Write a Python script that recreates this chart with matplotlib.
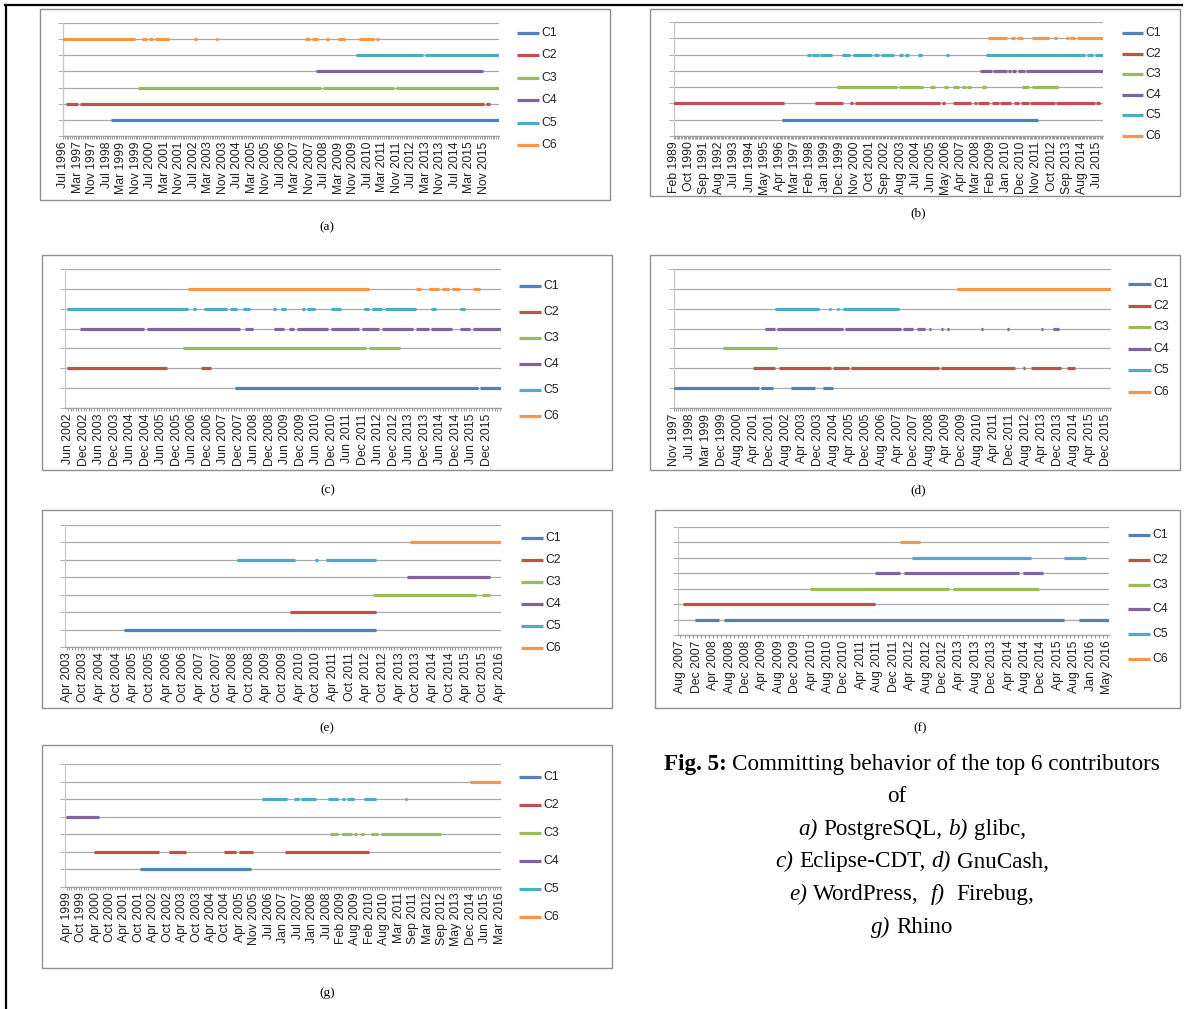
import numpy as np
import matplotlib
matplotlib.use("Agg")
import matplotlib.pyplot as plt
from matplotlib.lines import Line2D
from matplotlib.patches import Rectangle

W, H = 1186, 1009

NAMES = ["C1", "C2", "C3", "C4", "C5", "C6"]
COLORS = ["#4F81BD", "#C0504D", "#9BBB59", "#8064A2", "#4BACC6", "#F79646"]

# ---- (a) PostgreSQL
A_TICKS = ("Jul 1996,Mar 1997,Nov 1997,Jul 1998,Mar 1999,Nov 1999,Jul 2000,Mar 2001,Nov 2001,"
           "Jul 2002,Mar 2003,Nov 2003,Jul 2004,Mar 2005,Nov 2005,Jul 2006,Mar 2007,Nov 2007,"
           "Jul 2008,Mar 2009,Nov 2009,Jul 2010,Mar 2011,Nov 2011,Jul 2012,Mar 2013,Nov 2013,"
           "Jul 2014,Mar 2015,Nov 2015").split(",")
A_END = "2016-07"
A_SEGMENTS = [
    [("1998-10", "2016-07")],
    [("1996-09", "1997-03"), ("1997-05", "2015-11"), ("2016-01", "2016-02")],
    [("2000-01", "2008-05"), ("2008-07", "2011-09"), ("2011-11", "2016-07")],
    [("2008-03", "2015-10")],
    [("2010-01", "2013-01"), ("2013-03", "2016-07")],
    [("1996-07", "1999-10"), ("2000-03", "2000-05"), ("2000-07", "2000-08"), ("2000-10", "2001-05"),
     ("2002-08", "2002-08"), ("2003-08", "2003-08"), ("2007-09", "2007-11"), ("2008-01", "2008-03"),
     ("2008-09", "2008-09"), ("2009-03", "2009-06"), ("2010-03", "2010-10"), ("2010-12", "2011-01")],
]

# ---- (b) glibc
B_TICKS = ("Feb 1989,Oct 1990,Sep 1991,Aug 1992,Jul 1993,Jun 1994,May 1995,Apr 1996,Mar 1997,"
           "Feb 1998,Jan 1999,Dec 1999,Nov 2000,Oct 2001,Sep 2002,Aug 2003,Jul 2004,Jun 2005,"
           "May 2006,Apr 2007,Mar 2008,Feb 2009,Jan 2010,Dec 2010,Nov 2011,Oct 2012,Sep 2013,"
           "Aug 2014,Jul 2015").split(",")
B_END = "2015-11"
B_SEGMENTS = [
    [("1996-06", "2011-12")],
    [("1989-02", "1996-07"), ("1998-06", "2000-02"), ("2000-08", "2000-09"), ("2000-11", "2005-12"),
     ("2006-03", "2006-04"), ("2006-11", "2007-11"), ("2008-02", "2008-03"), ("2008-05", "2008-12"),
     ("2009-03", "2009-07"), ("2009-09", "2010-04"), ("2010-07", "2010-10"), ("2010-12", "2011-05"),
     ("2011-07", "2012-12"), ("2013-02", "2015-05"), ("2015-07", "2015-09")],
    [("1999-10", "2003-05"), ("2003-07", "2004-12"), ("2005-06", "2005-09"), ("2006-04", "2006-06"),
     ("2006-11", "2007-02"), ("2007-05", "2007-07"), ("2007-09", "2007-11"), ("2008-08", "2008-10"),
     ("2011-01", "2011-05"), ("2011-08", "2013-02")],
    [("2008-06", "2009-02"), ("2009-04", "2010-01"), ("2010-03", "2010-04"), ("2010-06", "2010-08"),
     ("2010-10", "2011-02"), ("2011-04", "2015-11")],
    [("1997-12", "1998-02"), ("1998-04", "1998-08"), ("1998-10", "1999-06"), ("2000-02", "2000-07"),
     ("2000-10", "2001-11"), ("2002-01", "2002-04"), ("2002-06", "2003-03"), ("2003-07", "2003-09"),
     ("2003-12", "2004-02"), ("2004-09", "2004-11"), ("2006-06", "2006-07"), ("2008-11", "2014-10"),
     ("2014-12", "2015-04"), ("2015-06", "2015-11")],
    [("2008-12", "2010-01"), ("2010-05", "2010-07"), ("2010-09", "2011-01"), ("2011-08", "2012-08"),
     ("2013-01", "2013-01"), ("2013-09", "2013-10"), ("2013-12", "2014-03"), ("2014-05", "2015-11")],
]

# ---- (c) Eclipse-CDT
C_TICKS = ("Jun 2002,Dec 2002,Jun 2003,Dec 2003,Jun 2004,Dec 2004,Jun 2005,Dec 2005,Jun 2006,"
           "Dec 2006,Jun 2007,Dec 2007,Jun 2008,Dec 2008,Jun 2009,Dec 2009,Jun 2010,Dec 2010,"
           "Jun 2011,Dec 2011,Jun 2012,Dec 2012,Jun 2013,Dec 2013,Jun 2014,Dec 2014,Jun 2015,"
           "Dec 2015").split(",")
C_END = "2016-05"
C_SEGMENTS = [
    [("2007-11", "2015-08"), ("2015-10", "2016-05")],
    [("2002-06", "2005-08"), ("2006-10", "2007-01")],
    [("2006-03", "2012-01"), ("2012-03", "2013-02")],
    [("2002-11", "2004-11"), ("2005-01", "2007-12"), ("2008-03", "2008-05"), ("2009-02", "2009-05"),
     ("2009-08", "2009-09"), ("2009-11", "2010-10"), ("2010-12", "2011-10"), ("2011-12", "2012-06"),
     ("2012-08", "2013-07"), ("2013-09", "2014-01"), ("2014-03", "2014-10"), ("2015-02", "2015-05"),
     ("2015-07", "2016-05")],
    [("2002-06", "2006-04"), ("2006-07", "2006-07"), ("2006-11", "2007-07"), ("2007-09", "2007-11"),
     ("2008-02", "2008-04"), ("2009-02", "2009-02"), ("2009-05", "2009-06"), ("2010-01", "2010-01"),
     ("2010-03", "2010-05"), ("2010-12", "2011-03"), ("2012-01", "2012-02"), ("2012-04", "2012-07"),
     ("2012-09", "2013-08"), ("2014-03", "2014-04"), ("2015-02", "2015-03")],
    [("2006-05", "2012-02"), ("2013-09", "2013-10"), ("2014-02", "2014-05"), ("2014-07", "2014-09"),
     ("2014-11", "2015-01"), ("2015-07", "2015-09")],
]

# ---- (d) GnuCash
D_TICKS = ("Nov 1997,Jul 1998,Mar 1999,Dec 1999,Aug 2000,Apr 2001,Dec 2001,Aug 2002,Apr 2003,"
           "Dec 2003,Aug 2004,Apr 2005,Dec 2005,Aug 2006,Apr 2007,Dec 2007,Aug 2008,Apr 2009,"
           "Dec 2009,Aug 2010,Apr 2011,Dec 2011,Aug 2012,Apr 2013,Dec 2013,Aug 2014,Apr 2015,"
           "Dec 2015").split(",")
D_END = "2016-02"
D_SEGMENTS = [
    [("1997-11", "2001-06"), ("2001-08", "2002-01"), ("2002-11", "2003-10"), ("2004-03", "2004-07")],
    [("2001-04", "2002-02"), ("2002-05", "2004-06"), ("2004-08", "2005-03"), ("2005-05", "2008-12"),
     ("2009-02", "2012-02"), ("2012-07", "2012-07"), ("2012-11", "2014-01"), ("2014-05", "2014-08")],
    [("2000-01", "2002-03")],
    [("2001-10", "2002-02"), ("2002-04", "2004-12"), ("2005-02", "2007-05"), ("2007-07", "2007-11"),
     ("2008-02", "2008-05"), ("2008-08", "2008-08"), ("2009-02", "2009-02"), ("2009-05", "2009-05"),
     ("2010-10", "2010-10"), ("2011-11", "2011-11"), ("2013-04", "2013-04"), ("2013-10", "2013-12")],
    [("2002-03", "2003-12"), ("2004-06", "2004-06"), ("2004-10", "2004-10"), ("2005-01", "2007-04")],
    [("2009-10", "2016-02")],
]

# ---- (e) WordPress
E_TICKS = ("Apr 2003,Oct 2003,Apr 2004,Oct 2004,Apr 2005,Oct 2005,Apr 2006,Oct 2006,Apr 2007,"
           "Oct 2007,Apr 2008,Oct 2008,Apr 2009,Oct 2009,Apr 2010,Oct 2010,Apr 2011,Oct 2011,"
           "Apr 2012,Oct 2012,Apr 2013,Oct 2013,Apr 2014,Oct 2014,Apr 2015,Oct 2015,"
           "Apr 2016").split(",")
E_END = "2016-04"
E_SEGMENTS = [
    [("2005-01", "2012-07")],
    [("2010-01", "2012-07")],
    [("2012-07", "2015-07"), ("2015-10", "2015-12")],
    [("2013-07", "2015-12")],
    [("2008-06", "2010-02"), ("2010-10", "2010-10"), ("2011-02", "2012-07")],
    [("2013-08", "2016-04")],
]

# ---- (f) Firebug
F_TICKS = ("Aug 2007,Dec 2007,Apr 2008,Aug 2008,Dec 2008,Apr 2009,Aug 2009,Dec 2009,Apr 2010,"
           "Aug 2010,Dec 2010,Apr 2011,Aug 2011,Dec 2011,Apr 2012,Aug 2012,Dec 2012,Apr 2013,"
           "Aug 2013,Dec 2013,Apr 2014,Aug 2014,Dec 2014,Apr 2015,Aug 2015,Jan 2016,"
           "May 2016").split(",")
F_END = "2016-05"
F_SEGMENTS = [
    [("2007-12", "2008-05"), ("2008-07", "2015-05"), ("2015-10", "2016-05")],
    [("2007-09", "2011-07")],
    [("2010-04", "2013-01"), ("2013-03", "2014-11")],
    [("2011-08", "2012-01"), ("2012-03", "2014-06"), ("2014-08", "2014-12")],
    [("2012-05", "2014-09"), ("2015-06", "2015-11")],
    [("2012-02", "2012-06")],
]

# ---- (g) Rhino
G_TICKS = ("Apr 1999,Oct 1999,Apr 2000,Oct 2000,Apr 2001,Oct 2001,Apr 2002,Oct 2002,Apr 2003,"
           "Oct 2003,Apr 2004,Oct 2004,Apr 2005,Nov 2005,Jul 2006,Jan 2007,Jul 2007,Jan 2008,"
           "Jul 2008,Feb 2009,Aug 2009,Feb 2010,Aug 2010,Mar 2011,Sep 2011,Mar 2012,Sep 2012,"
           "May 2013,Dec 2014,Jun 2015,Mar 2016").split(",")
G_END = "2016-03"
G_SEGMENTS = [
    [("2001-11", "2005-09")],
    [("2000-04", "2002-06"), ("2002-11", "2003-05"), ("2004-10", "2005-02"), ("2005-04", "2005-10"),
     ("2007-02", "2010-01")],
    [("2008-09", "2008-12"), ("2009-03", "2009-06"), ("2009-08", "2009-08"), ("2009-11", "2009-11"),
     ("2010-03", "2010-05"), ("2010-07", "2012-08")],
    [("1999-04", "2000-05")],
    [("2006-04", "2007-02"), ("2007-06", "2007-07"), ("2007-09", "2008-02"), ("2008-08", "2008-12"),
     ("2009-03", "2009-03"), ("2009-05", "2009-07"), ("2009-12", "2010-04"), ("2011-06", "2011-06")],
    [("2014-12", "2016-03")],
]

MONTHS = {m: i for i, m in enumerate(
    ["Jan", "Feb", "Mar", "Apr", "May", "Jun", "Jul", "Aug", "Sep", "Oct", "Nov", "Dec"])}

GRID = "#a9a9a9"
TICK_FONT = ["Liberation Sans Narrow", "Liberation Sans", "DejaVu Sans"]


def label_num(lbl):
    mon, yr = lbl.split()
    return int(yr) * 12 + MONTHS[mon]


def date_num(s):
    y, m = s.split("-")
    return int(y) * 12 + int(m) - 1


def fig_box(x0, y0, x1, y1):
    # pixel box (top-left origin) -> figure fraction
    return [x0 / W, 1 - y1 / H, (x1 - x0) / W, (y1 - y0) / H]


def draw_panel(fig, ticks, step, end, segments, frame, plot, legend, tag, lpad):
    # grey frame around each Excel chart
    fx0, fy0, fx1, fy1 = frame
    fig.add_artist(Rectangle((fx0 / W, 1 - fy1 / H), (fx1 - fx0) / W, (fy1 - fy0) / H,
                             transform=fig.transFigure, fill=False, ec="#8f8f8f", lw=1.0))

    ax = fig.add_axes(fig_box(*plot))

    # category axis: tick labels every `step` months, gaps where months are missing
    nums = np.array([label_num(t) for t in ticks], dtype=float)
    locs = np.arange(len(ticks)) * step

    def pos(s):
        n = date_num(s)
        if n < nums[0]:
            return locs[0] - (nums[0] - n)
        if n > nums[-1]:
            return locs[-1] + (n - nums[-1])
        return float(np.interp(n, nums, locs))

    xmax = pos(end)
    ax.set_xlim(-lpad, xmax + 0.5)
    ax.set_ylim(0, 7)

    # short marks are kept at least ~2.8 px wide so single months stay visible
    px_per_cat = (plot[2] - plot[0]) / (xmax + 0.5 + lpad)
    min_len = 2.8 / px_per_cat

    for lvl, (segs, color) in enumerate(zip(segments, COLORS), start=1):
        for a, b in segs:
            x0, x1 = pos(a) - 0.45, pos(b) + 0.45
            if x1 - x0 < min_len:
                mid = (x0 + x1) / 2
                x0, x1 = mid - min_len / 2, mid + min_len / 2
            ax.plot([x0, x1], [lvl, lvl], color=color, lw=2.3,
                    solid_capstyle="butt", zorder=3)

    ax.set_yticks(range(0, 8))
    ax.set_yticklabels([])
    ax.yaxis.grid(True, color=GRID, lw=0.9)
    ax.set_axisbelow(True)

    ax.set_xticks(locs)
    ax.set_xticklabels(ticks, rotation=90, fontsize=8.8, family=TICK_FONT, color="#202020")
    ax.set_xticks(np.arange(0, int(xmax) + 1), minor=True)
    ax.tick_params(axis="x", which="both", length=2.5, width=0.6, color="#8c8c8c", pad=1.5)
    ax.tick_params(axis="y", length=3.5, width=0.6, color="#a0a0a0")

    for side in ("top", "right"):
        ax.spines[side].set_visible(False)
    ax.spines["left"].set_color("#c8c8c8")
    ax.spines["bottom"].set_color("#a0a0a0")
    ax.spines["left"].set_linewidth(0.9)
    ax.spines["bottom"].set_linewidth(0.9)

    # legend drawn as in Excel: short line + label, one row per contributor
    lx0, lx1, ly0, pitch = legend
    for i, (name, color) in enumerate(zip(NAMES, COLORS)):
        y = 1 - (ly0 + i * pitch) / H
        fig.add_artist(Line2D([lx0 / W, lx1 / W], [y, y], transform=fig.transFigure,
                              color=color, lw=2.3, solid_capstyle="butt"))
        fig.text((lx1 + 2) / W, y, name, fontsize=8.8, family=TICK_FONT,
                 color="#202020", va="center", ha="left")

    tx, ty, label = tag
    fig.text(tx / W, 1 - ty / H, label, fontsize=9.5, family="Liberation Serif",
             ha="center", va="center")


def caption(fig, lines, target_width):
    r = fig.canvas.get_renderer()

    def width(s, size, weight="normal", style="normal"):
        t = fig.text(0, 0, s, fontsize=size, family="Liberation Serif", weight=weight, style=style)
        w = t.get_window_extent(r).width
        t.remove()
        return w

    # fit the first line to the width it has in the paper
    base = 16
    space = width("x x", base) - width("xx", base)
    first = lines[0][2]
    w0 = sum(width(s, base, wt, st) for s, wt, st, _ in first) + space * sum(g for *_, g in first[1:])
    size = base * target_width / w0
    space = space * size / base

    for xc, yb, parts in lines:
        widths = [width(s, size, wt, st) for s, wt, st, _ in parts]
        total = sum(widths) + space * sum(g for *_, g in parts[1:])
        x = xc - total / 2
        for k, ((s, wt, st, gap), w) in enumerate(zip(parts, widths)):
            if k:
                x += space * gap
            fig.text(x / W, 1 - yb / H, s, fontsize=size, family="Liberation Serif",
                     weight=wt, style=st, va="baseline", ha="left")
            x += w


def main():
    fig = plt.figure(figsize=(W / 100, H / 100), dpi=100)
    fig.patch.set_facecolor("white")

    # 1) seven Excel-like timelines
    draw_panel(fig, A_TICKS, 8, A_END, A_SEGMENTS, (40, 9, 610, 200), (63, 23, 499, 136),
               (517, 539, 33, 22.4), (327, 227, "(a)"), 0.0)
    draw_panel(fig, B_TICKS, 11, B_END, B_SEGMENTS, (650, 9, 1180, 196), (674, 22, 1103, 136),
               (1122, 1143, 33, 20.6), (918, 213, "(b)"), 0.0)
    draw_panel(fig, C_TICKS, 6, C_END, C_SEGMENTS, (42, 255, 612, 470), (65, 269, 501, 408),
               (519, 541, 286, 26.0), (328, 490, "(c)"), 1.2)
    draw_panel(fig, D_TICKS, 8, D_END, D_SEGMENTS, (650, 255, 1180, 470), (674, 269, 1111, 408),
               (1128, 1151, 284, 21.6), (918, 490, "(d)"), 0.0)
    draw_panel(fig, E_TICKS, 6, E_END, E_SEGMENTS, (42, 510, 612, 708), (65, 525, 501, 647),
               (521, 543, 538, 22.0), (327, 728, "(e)"), 0.6)
    draw_panel(fig, F_TICKS, 4, F_END, F_SEGMENTS, (655, 510, 1180, 708), (678, 527, 1109, 635),
               (1128, 1150, 535, 24.8), (920, 728, "(f)"), 0.6)
    draw_panel(fig, G_TICKS, 6, G_END, G_SEGMENTS, (42, 745, 612, 968), (65, 764, 501, 887),
               (519, 541, 777, 28.0), (327, 993, "(g)"), 0.7)

    # 2) outer page rule (left and top)
    fig.add_artist(Line2D([6 / W, 6 / W], [0, 1 - 5 / H], transform=fig.transFigure,
                          color="black", lw=1.6))
    fig.add_artist(Line2D([5 / W, 1182 / W], [1 - 5 / H, 1 - 5 / H], transform=fig.transFigure,
                          color="black", lw=1.6))

    # 3) figure caption with mixed bold / italic pieces
    N, B, I = "normal", "bold", "italic"
    lines = [
        (912, 770, [("Fig. 5:", B, N, 0), ("Committing behavior of the top 6 contributors", N, N, 1)]),
        (897, 802.5, [("of", N, N, 0)]),
        (912, 835, [("a)", N, I, 0), ("PostgreSQL,", N, N, 1), ("b)", N, I, 1), ("glibc,", N, N, 1)]),
        (912, 867.5, [("c)", N, I, 0), ("Eclipse-CDT,", N, N, 1), ("d)", N, I, 1), ("GnuCash,", N, N, 1)]),
        (912, 900, [("e)", N, I, 0), ("WordPress,", N, N, 1), ("f)", N, I, 2), ("Firebug,", N, N, 2)]),
        (912, 933, [("g)", N, I, 0), ("Rhino", N, N, 1)]),
    ]
    caption(fig, lines, 499)

    fig.savefig("out.png", dpi=100, facecolor="white")


if __name__ == "__main__":
    main()
